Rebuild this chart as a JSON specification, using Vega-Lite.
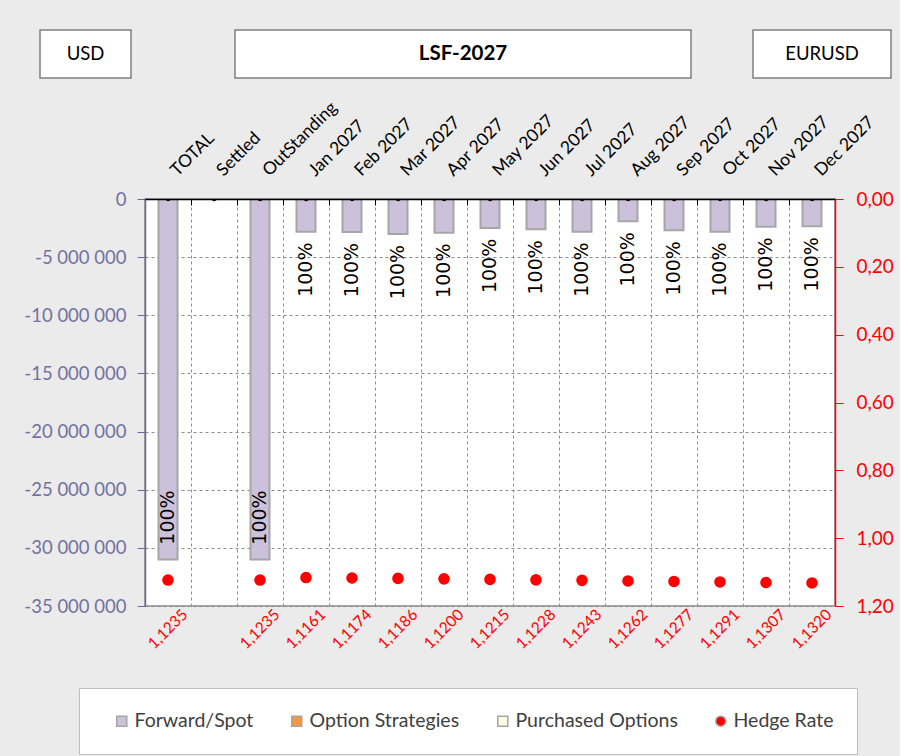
{
  "$schema": "https://vega.github.io/schema/vega-lite/v6.json",
  "background": "#ebebeb",
  "padding": {"left": 22, "top": 29, "right": 5, "bottom": 5},
  "config": {
    "locale": {"number": {"decimal": ",", "thousands": " ", "grouping": [3], "currency": ["", ""], "minus": "-"}},
    "font": "Lato",
    "view": {"stroke": null},
    "legend": {
      "orient": "none", "legendX": 39, "legendY": 658, "direction": "horizontal",
      "titleOrient": "left", "titlePadding": 10,
      "padding": 23, "strokeColor": "#bfbfbf", "fillColor": "#ffffff",
      "labelFontSize": 19.5, "labelColor": "#404040", "labelFont": "Lato", "labelLimit": 400,
      "symbolSize": 100, "symbolStrokeWidth": 1.5,
      "columnPadding": 33, "labelOffset": 3
    }
  },
  "bounds": "flush",
  "spacing": 169,
  "vconcat": [
    {
      "bounds": "flush",
      "spacing": 104,
      "hconcat": [
        {
          "width": 91, "height": 48,
          "view": {"fill": "white", "stroke": "#808080", "strokeWidth": 1.5},
          "data": {"values": [{"label": "USD"}]},
          "mark": {"type": "text", "fontSize": 18.5, "color": "#000000"},
          "encoding": {"text": {"field": "label", "type": "nominal"}}
        },
        {
          "bounds": "flush",
          "spacing": 62,
          "hconcat": [
            {
              "width": 456, "height": 48,
              "view": {"fill": "white", "stroke": "#808080", "strokeWidth": 1.5},
              "data": {"values": [{"label": "LSF-2027"}]},
              "mark": {"type": "text", "fontSize": 20.5, "fontWeight": "bold", "color": "#000000"},
              "encoding": {"text": {"field": "label", "type": "nominal"}}
            },
            {
              "width": 138, "height": 48,
              "view": {"fill": "white", "stroke": "#808080", "strokeWidth": 1.5},
              "data": {"values": [{"label": "EURUSD"}]},
              "mark": {"type": "text", "fontSize": 18.5, "color": "#000000"},
              "encoding": {"text": {"field": "label", "type": "nominal"}}
            }
          ]
        }
      ]
    },
    {
      "bounds": "flush",
      "spacing": 100,
      "hconcat": [
        {
          "width": 5, "height": 407,
          "data": {"values": []},
          "mark": "point",
          "encoding": {}
        },
        {
          "width": 690,
          "height": 407,
          "view": {"fill": "white", "stroke": "#a6a6a6", "strokeWidth": 2},
          "data": {"values": [
            {"cat": "TOTAL", "fwd": -31000000, "rate": 1.1235, "pct": "100%", "series": "Forward/Spot", "rateSeries": "Hedge Rate"},
            {"cat": "Settled", "fwd": 0, "rate": null, "pct": null, "series": "Forward/Spot", "rateSeries": "Hedge Rate"},
            {"cat": "OutStanding", "fwd": -31000000, "rate": 1.1235, "pct": "100%", "series": "Forward/Spot", "rateSeries": "Hedge Rate"},
            {"cat": "Jan 2027", "fwd": -2810000, "rate": 1.1161, "pct": "100%", "series": "Forward/Spot", "rateSeries": "Hedge Rate"},
            {"cat": "Feb 2027", "fwd": -2840000, "rate": 1.1174, "pct": "100%", "series": "Forward/Spot", "rateSeries": "Hedge Rate"},
            {"cat": "Mar 2027", "fwd": -3010000, "rate": 1.1186, "pct": "100%", "series": "Forward/Spot", "rateSeries": "Hedge Rate"},
            {"cat": "Apr 2027", "fwd": -2900000, "rate": 1.1200, "pct": "100%", "series": "Forward/Spot", "rateSeries": "Hedge Rate"},
            {"cat": "May 2027", "fwd": -2490000, "rate": 1.1215, "pct": "100%", "series": "Forward/Spot", "rateSeries": "Hedge Rate"},
            {"cat": "Jun 2027", "fwd": -2610000, "rate": 1.1228, "pct": "100%", "series": "Forward/Spot", "rateSeries": "Hedge Rate"},
            {"cat": "Jul 2027", "fwd": -2810000, "rate": 1.1243, "pct": "100%", "series": "Forward/Spot", "rateSeries": "Hedge Rate"},
            {"cat": "Aug 2027", "fwd": -1920000, "rate": 1.1262, "pct": "100%", "series": "Forward/Spot", "rateSeries": "Hedge Rate"},
            {"cat": "Sep 2027", "fwd": -2690000, "rate": 1.1277, "pct": "100%", "series": "Forward/Spot", "rateSeries": "Hedge Rate"},
            {"cat": "Oct 2027", "fwd": -2810000, "rate": 1.1291, "pct": "100%", "series": "Forward/Spot", "rateSeries": "Hedge Rate"},
            {"cat": "Nov 2027", "fwd": -2380000, "rate": 1.1307, "pct": "100%", "series": "Forward/Spot", "rateSeries": "Hedge Rate"},
            {"cat": "Dec 2027", "fwd": -2350000, "rate": 1.1320, "pct": "100%", "series": "Forward/Spot", "rateSeries": "Hedge Rate"}
          ]},
          "resolve": {"axis": {"x": "independent"}, "scale": {"y": "independent"}},
          "layer": [
            {
              "transform": [{"filter": "datum.fwd < 0"}],
              "mark": {"type": "bar", "size": 19, "stroke": "#a6a6a6", "strokeWidth": 2},
              "encoding": {
                "x": {
                  "field": "cat", "type": "nominal",
                  "scale": {"domain": ["TOTAL", "Settled", "OutStanding", "Jan 2027", "Feb 2027", "Mar 2027", "Apr 2027", "May 2027", "Jun 2027", "Jul 2027", "Aug 2027", "Sep 2027", "Oct 2027", "Nov 2027", "Dec 2027"], "paddingInner": 0, "paddingOuter": 0},
                  "axis": {"orient": "top", "bandPosition": 0, "grid": true, "gridDash": [3, 3], "gridColor": "#8c8c8c", "gridWidth": 1, "labels": false, "ticks": true, "tickSize": -6, "tickColor": "#000000", "domain": false, "title": null, "zindex": 0}
                },
                "y": {
                  "field": "fwd", "type": "quantitative",
                  "scale": {"domain": [-35000000, 0], "nice": false},
                  "axis": {"orient": "left", "values": [-35000000, -30000000, -25000000, -20000000, -15000000, -10000000, -5000000, 0], "format": ",.0f", "labelFontSize": 18.5, "labelColor": "#7272a0", "domainColor": "#6a6a9c", "domainWidth": 1.5, "tickColor": "#6a6a9c", "tickSize": 8, "labelPadding": 11, "grid": true, "gridDash": [3, 3], "gridColor": "#8c8c8c", "title": null, "zindex": 0}
                },
                "color": {
                  "field": "series", "type": "nominal",
                  "scale": {"domain": ["Forward/Spot", "Option Strategies", "Purchased Options", "Hedge Rate"], "range": ["#ccc1da", "#f79646", "#fffde0", "#ff0000"]},
                  "legend": {"title": " "}
                }
              }
            },
            {
              "mark": {"type": "text", "text": "-", "fontSize": 14, "baseline": "middle", "dy": 1.5, "color": "#000000"},
              "encoding": {
                "x": {
                  "field": "cat", "type": "nominal",
                  "axis": {"orient": "top", "labelAngle": -45, "labelAlign": "left", "labelBaseline": "middle", "labelFontSize": 17.5, "labelColor": "#000000", "labelPadding": 26, "labelOffset": 6, "ticks": false, "tickSize": 0, "domain": true, "domainColor": "#000000", "domainWidth": 1.5, "labelOverlap": false, "labelBound": false, "title": null, "zindex": 1}
                },
                "y": {"datum": 0, "type": "quantitative", "scale": {"domain": [-35000000, 0], "nice": false}, "axis": null}
              }
            },
            {
              "transform": [{"filter": "datum.pct != null && datum.fwd > -10000000"}],
              "mark": {"type": "text", "angle": 270, "font": "DejaVu Sans", "fontSize": 19, "align": "center", "baseline": "middle", "dx": -38, "color": "#000000"},
              "encoding": {
                "x": {"field": "cat", "type": "nominal", "axis": null},
                "y": {"field": "fwd", "type": "quantitative", "scale": {"domain": [-35000000, 0], "nice": false}, "axis": null},
                "text": {"field": "pct", "type": "nominal"}
              }
            },
            {
              "transform": [{"filter": "datum.fwd <= -10000000"}],
              "mark": {"type": "text", "angle": 270, "font": "DejaVu Sans", "fontSize": 19, "align": "center", "baseline": "middle", "dx": 42, "color": "#000000"},
              "encoding": {
                "x": {"field": "cat", "type": "nominal", "axis": null},
                "y": {"field": "fwd", "type": "quantitative", "scale": {"domain": [-35000000, 0], "nice": false}, "axis": null},
                "text": {"field": "pct", "type": "nominal"}
              }
            },
            {
              "transform": [{"filter": "isValid(datum.rate)"}],
              "mark": {"type": "point", "filled": true, "size": 135, "color": "#ff0000", "opacity": 1},
              "encoding": {
                "x": {"field": "cat", "type": "nominal", "axis": null},
                "y": {
                  "field": "rate", "type": "quantitative",
                  "scale": {"domain": [0, 1.2], "reverse": true, "nice": false, "zero": false},
                  "axis": {"orient": "right", "values": [0, 0.2, 0.4, 0.6, 0.8, 1.0, 1.2], "format": ".2f", "labelFontSize": 19, "labelColor": "#ff0000", "domainColor": "#ff0000", "domainWidth": 1.5, "tickColor": "#ff0000", "tickSize": 8, "labelPadding": 13, "grid": false, "title": null, "zindex": 1}
                },
                "shape": {
                  "field": "rateSeries", "type": "nominal",
                  "scale": {"domain": ["Forward/Spot", "Option Strategies", "Purchased Options", "Hedge Rate"], "range": ["square", "square", "square", "circle"]},
                  "legend": {"title": " "}
                }
              }
            },
            {
              "transform": [{"filter": "isValid(datum.rate)"}],
              "mark": {"type": "text", "angle": 315, "align": "right", "baseline": "middle", "fontSize": 15.5, "color": "#ff0000", "dx": 7.8, "dy": 16.3},
              "encoding": {
                "x": {"field": "cat", "type": "nominal", "axis": null},
                "y": {"datum": 1.2, "type": "quantitative", "scale": {"domain": [0, 1.2], "reverse": true, "nice": false, "zero": false}, "axis": null},
                "text": {"field": "rate", "type": "quantitative", "format": ".4f"}
              }
            }
          ]
        }
      ]
    }
  ]
}
